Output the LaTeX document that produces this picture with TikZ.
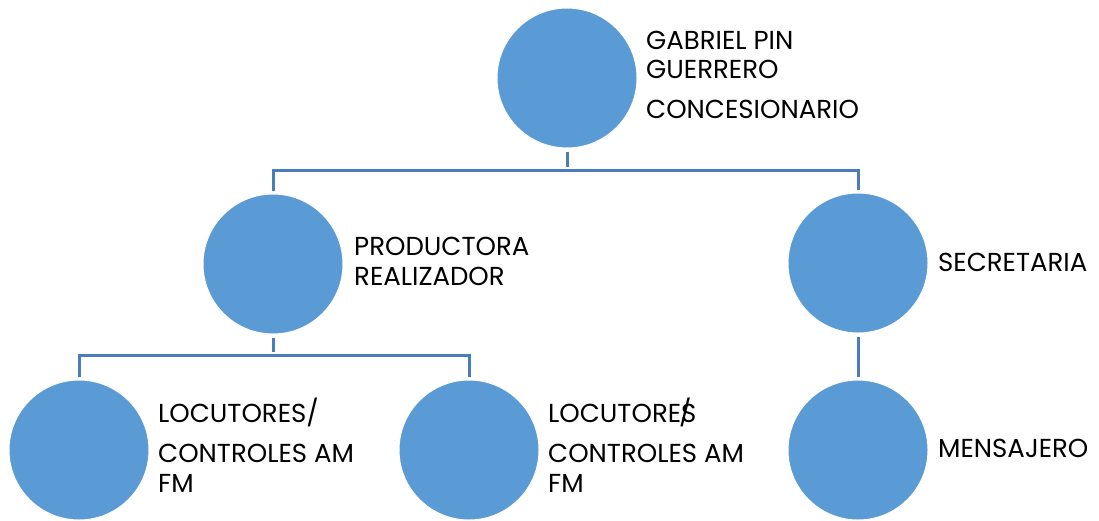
\documentclass[tikz,border=0pt]{standalone}
\usepackage{fontspec}
\setmainfont{Poppins}
\definecolor{circfill}{HTML}{5B9BD5}
\definecolor{connline}{HTML}{4A7EBB}
\begin{document}
\begin{tikzpicture}[x=1pt,y=-1pt,
  person/.style={circle,fill=circfill,draw=white,line width=1pt,minimum size=140pt,inner sep=0pt},
  lbl/.style={anchor=base west,inner sep=0pt,font=\fontsize{26}{30}\selectfont,text=black},
  conn/.style={draw=connline,line width=3pt,shorten <=3pt,shorten >=3pt}]
\useasboundingbox (0,0) rectangle (1099,520);
% circles
\node[person] (top) at (567,78) {};
\node[person] (prod) at (273,264) {};
\node[person] (sec) at (858,263) {};
\node[person] (loc1) at (79,450) {};
\node[person] (loc2) at (469,450) {};
\node[person] (mens) at (858,450) {};
% labels
\node[lbl] (t1) at (646,49) {GABRIEL PIN};
\node[lbl] (t2) at (646,78) {GUERRERO};
\node[lbl] (t3) at (646,118) {CONCESIONARIO};
\node[lbl] (p1) at (354,255) {PRODUCTORA};
\node[lbl] (p2) at (354,285) {REALIZADOR};
\node[lbl] (s1) at (938,271) {SECRETARIA};
\node[lbl] (m1) at (938,457) {MENSAJERO};
\node[lbl] (a1) at (158,422) {LOCUTORES/};
\node[lbl] (a2) at (158,462) {CONTROLES AM};
\node[lbl] (a3) at (158,492) {FM};
\node[lbl] (b1) at (548,422) {LOCUTORE\rlap{\kern-0.08em/}S};
\node[lbl] (b2) at (548,462) {CONTROLES AM};
\node[lbl] (b3) at (548,492) {FM};
% connectors
\coordinate (bus1) at (567,170);
\coordinate (bus2) at (273,355);
\draw[conn] (top.south) -- (bus1);
\draw[conn,shorten <=0pt] (bus1) -| (prod.north);
\draw[conn,shorten <=0pt] (bus1) -| (sec.north);
\draw[conn] (prod.south) -- (bus2);
\draw[conn,shorten <=0pt] (bus2) -| (loc1.north);
\draw[conn,shorten <=0pt] (bus2) -| (loc2.north);
\draw[conn] (sec.south) -- (mens.north);
\end{tikzpicture}
\end{document}
